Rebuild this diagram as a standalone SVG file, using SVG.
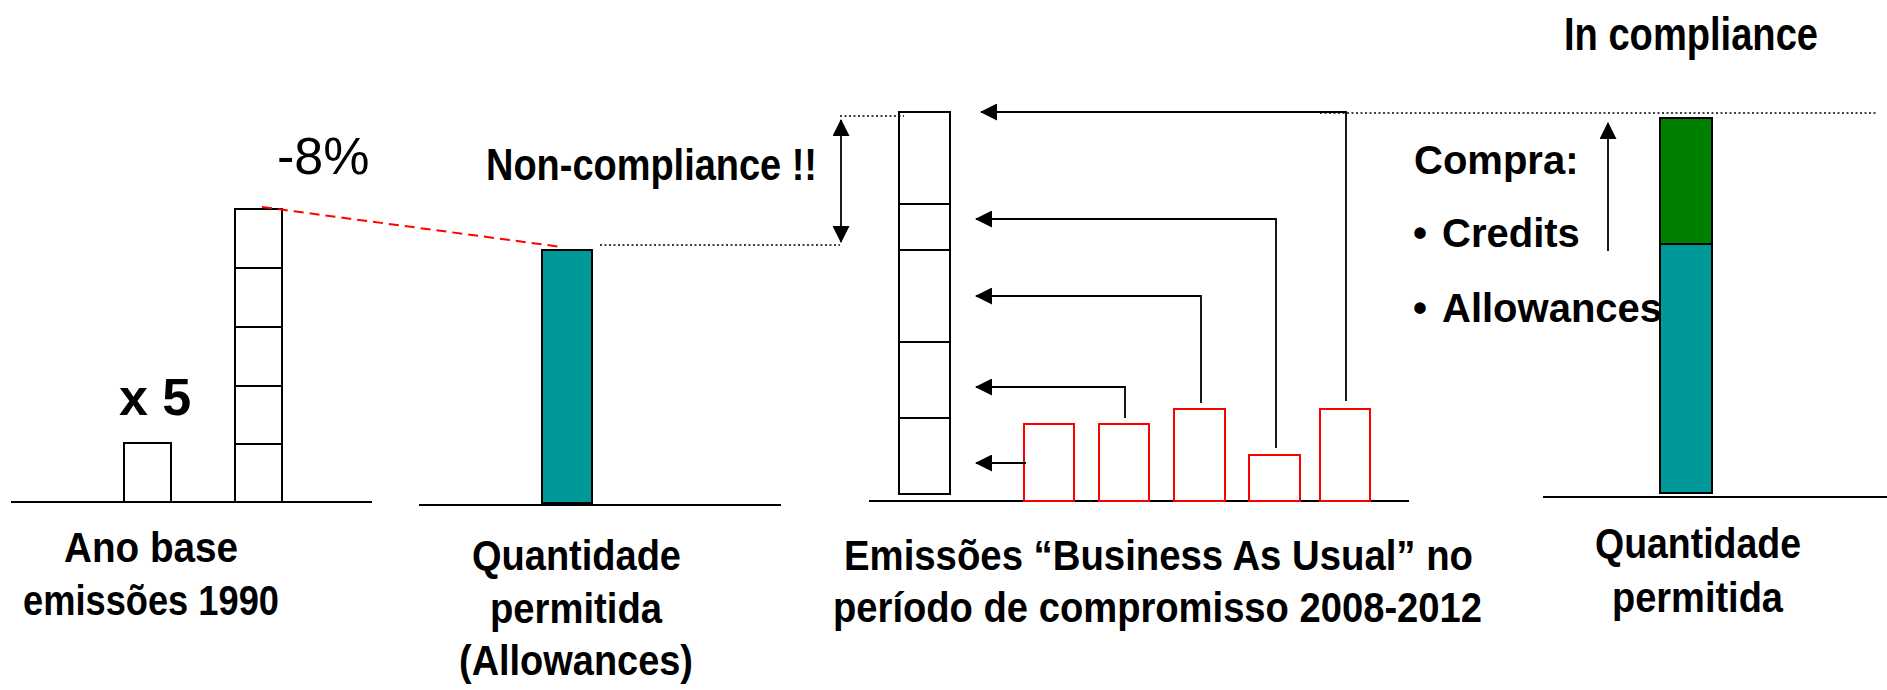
<svg xmlns="http://www.w3.org/2000/svg" width="1887" height="690" viewBox="0 0 1887 690">
<style>
text{font-family:"Liberation Sans",Arial,sans-serif;fill:#000}
.b{font-weight:bold}
.lbl{font-weight:bold;font-size:43px;text-anchor:middle}
.box{fill:#fff;stroke:#000;stroke-width:2}
.red{fill:#fff;stroke:#f00;stroke-width:2}
.base{stroke:#000;stroke-width:2;fill:none}
.dot{stroke:#000;stroke-width:1.5;stroke-dasharray:2 2.5;fill:none}
.conn{stroke:#000;stroke-width:1.8;fill:none}
</style>
<defs>
<marker id="ah" viewBox="0 0 17 17" refX="16" refY="8.5" markerWidth="17" markerHeight="17" markerUnits="userSpaceOnUse" orient="auto-start-reverse">
<path d="M0,0 L17,8.5 L0,17 z" fill="#000"/>
</marker>
</defs>
<rect width="1887" height="690" fill="#fff"/>

<g id="base1990">
<line class="base" x1="11" y1="502" x2="372" y2="502"/>
<rect class="box" x="124" y="443" width="47" height="59"/>
<text class="b" x="119" y="415" font-size="52">x 5</text>
<rect class="box" x="235" y="209" width="47" height="59"/>
<rect class="box" x="235" y="268" width="47" height="59"/>
<rect class="box" x="235" y="327" width="47" height="59"/>
<rect class="box" x="235" y="386" width="47" height="58"/>
<rect class="box" x="235" y="444" width="47" height="58"/>
<text x="277" y="174" font-size="52">-8%</text>
<text class="lbl" x="151" y="562" textLength="174" lengthAdjust="spacingAndGlyphs">Ano base</text>
<text class="lbl" x="151" y="615" textLength="256" lengthAdjust="spacingAndGlyphs">emissões 1990</text>
</g>

<g id="allowances">
<line class="base" x1="419" y1="505" x2="781" y2="505"/>
<rect x="542" y="250" width="50" height="253" fill="#009999" stroke="#000" stroke-width="2"/>
<text class="lbl" x="576.5" y="570" textLength="209" lengthAdjust="spacingAndGlyphs">Quantidade</text>
<text class="lbl" x="576" y="623" textLength="172" lengthAdjust="spacingAndGlyphs">permitida</text>
<text class="lbl" x="576" y="675" textLength="234" lengthAdjust="spacingAndGlyphs">(Allowances)</text>
</g>

<g id="noncompliance">
<text class="b" x="486" y="180" font-size="44" textLength="331" lengthAdjust="spacingAndGlyphs">Non-compliance !!</text>
</g>

<g id="bau">
<line class="base" x1="869" y1="501" x2="1409" y2="501"/>
<rect class="box" x="899" y="112" width="51" height="92"/>
<rect class="box" x="899" y="204" width="51" height="46"/>
<rect class="box" x="899" y="250" width="51" height="92"/>
<rect class="box" x="899" y="342" width="51" height="76"/>
<rect class="box" x="899" y="418" width="51" height="76"/>
<rect class="red" x="1024" y="424" width="50" height="77"/>
<rect class="red" x="1099" y="424" width="50" height="77"/>
<rect class="red" x="1174" y="409" width="51" height="92"/>
<rect class="red" x="1249" y="455" width="51" height="46"/>
<rect class="red" x="1320" y="409" width="50" height="92"/>
<text class="lbl" x="1158.5" y="570" textLength="629" lengthAdjust="spacingAndGlyphs">Emissões “Business As Usual” no</text>
<text class="lbl" x="1157.5" y="622" textLength="649" lengthAdjust="spacingAndGlyphs">período de compromisso 2008-2012</text>
</g>

<g id="compliance">
<text class="b" x="1564" y="50" font-size="47" textLength="254" lengthAdjust="spacingAndGlyphs">In compliance</text>
<line class="base" x1="1543" y1="497" x2="1887" y2="497"/>
<rect x="1660" y="244" width="52" height="249" fill="#009999" stroke="#000" stroke-width="2"/>
<rect x="1660" y="118" width="52" height="126" fill="#008000" stroke="#000" stroke-width="2"/>
<text class="b" x="1414" y="174" font-size="40">Compra:</text>
<text class="b" x="1413" y="247" font-size="40">•</text>
<text class="b" x="1442" y="247" font-size="40">Credits</text>
<text class="b" x="1413" y="322" font-size="40">•</text>
<text class="b" x="1442" y="322" font-size="40">Allowances</text>
<text class="lbl" x="1698" y="558" textLength="206" lengthAdjust="spacingAndGlyphs">Quantidade</text>
<text class="lbl" x="1697.5" y="612" textLength="171" lengthAdjust="spacingAndGlyphs">permitida</text>
</g>

<g id="connectors">
<line x1="262" y1="207" x2="562" y2="247" stroke="#f00" stroke-width="2" stroke-dasharray="10 6"/>
<line class="dot" x1="600" y1="245" x2="840" y2="245"/>
<line class="dot" x1="840" y1="116" x2="904" y2="116"/>
<line class="dot" x1="1320" y1="113" x2="1877" y2="113"/>
<line class="conn" x1="841" y1="120" x2="841" y2="242" marker-start="url(#ah)" marker-end="url(#ah)"/>
<polyline class="conn" points="1026,463 976,463" marker-end="url(#ah)"/>
<polyline class="conn" points="1125,418 1125,387 976,387" marker-end="url(#ah)"/>
<polyline class="conn" points="1201,403 1201,296 976,296" marker-end="url(#ah)"/>
<polyline class="conn" points="1276,448 1276,219 976,219" marker-end="url(#ah)"/>
<polyline class="conn" points="1346,401 1346,112 981,112" marker-end="url(#ah)"/>
<line class="conn" x1="1608" y1="251" x2="1608" y2="123" marker-end="url(#ah)"/>
</g>
</svg>
